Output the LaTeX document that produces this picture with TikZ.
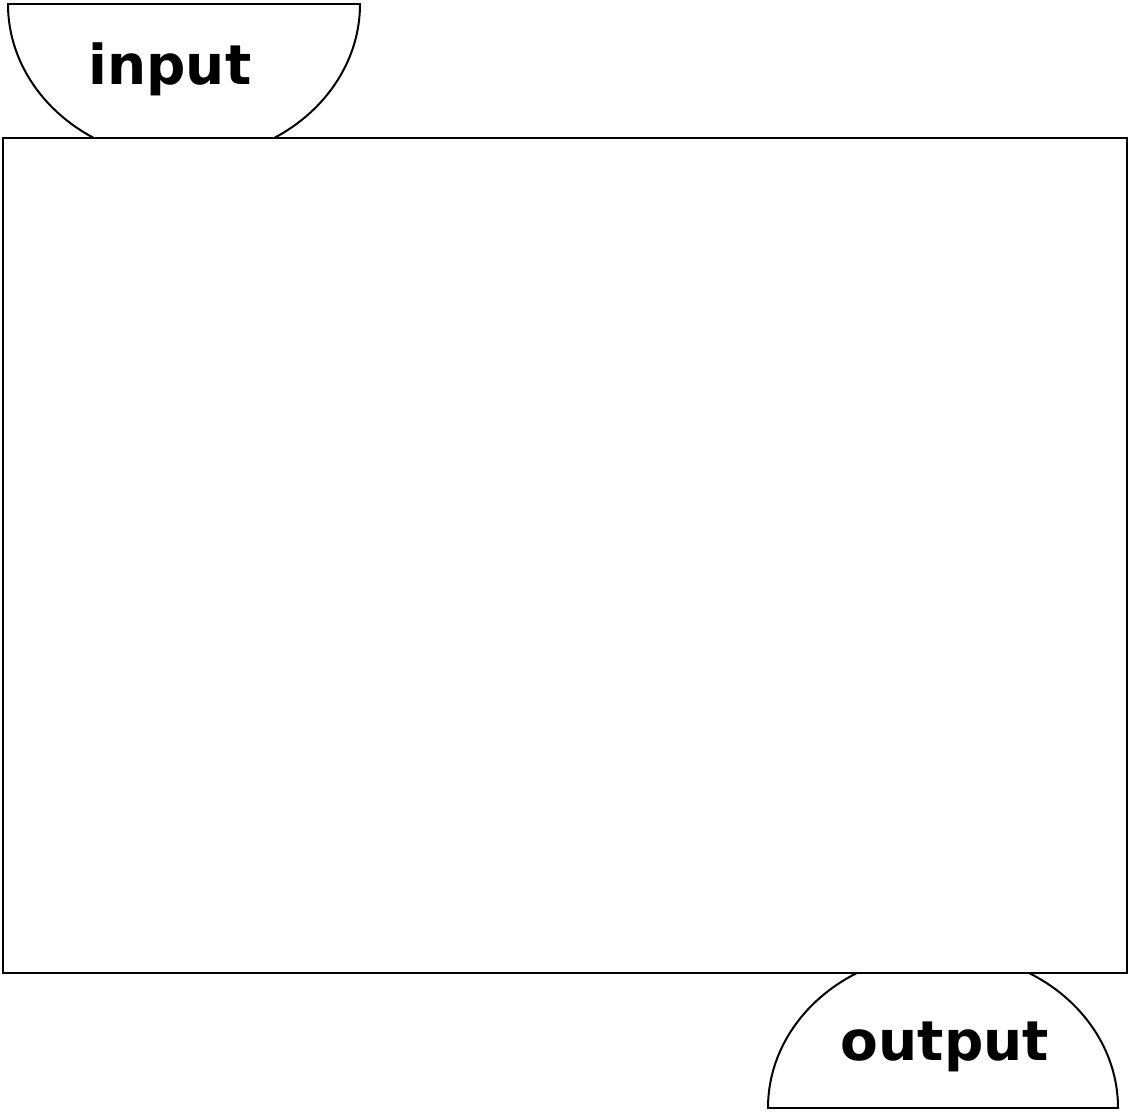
\documentclass[tikz,border=0pt]{standalone}
\usepackage{fontspec}
\setmainfont{DejaVu Sans}
\usepackage{tikz}

\begin{document}
\begin{tikzpicture}[x=1pt,y=-1pt,line width=2pt,
    lbl/.style={font=\fontsize{55}{60}\selectfont\bfseries,anchor=base,inner sep=0pt}]
            \useasboundingbox (0,0) rectangle (1130,1115);
            \draw (3,138) rectangle (1127,973);
            \begin{scope}
                \clip (0,4) rectangle (400,138);
                \draw (184,4) ellipse (176 and 156);
            \end{scope}
            \draw (8,4) -- (360,4);
            \begin{scope}
                \clip (740,973) rectangle (1130,1108);
                \draw (943,1108) ellipse (175 and 155);
            \end{scope}
            \draw (768,1108) -- (1118,1108);
            \node [lbl] (in) at (170,85) {input};
            \node [lbl] (out) at (945,1060) {output};
        \end{tikzpicture}
\end{document}
